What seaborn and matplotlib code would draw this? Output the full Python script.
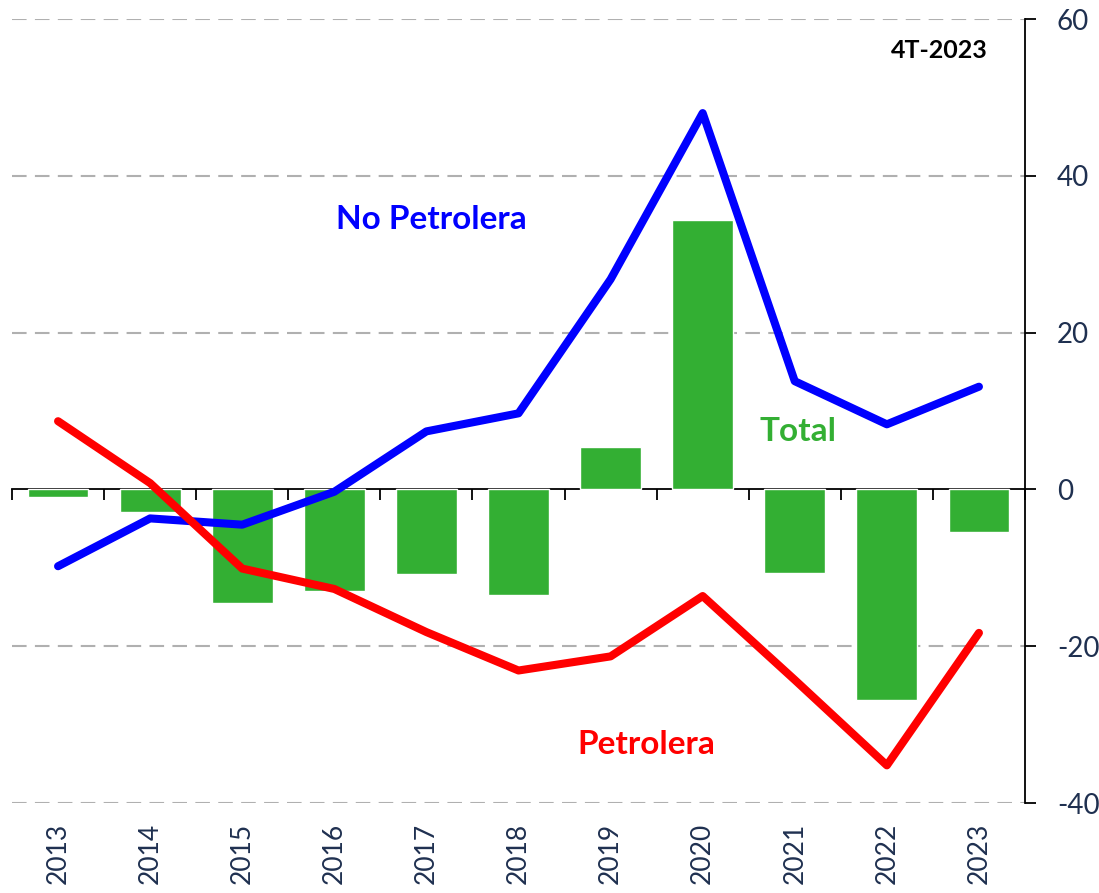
import numpy as np
import pandas as pd
import matplotlib
matplotlib.use("Agg")
import matplotlib.pyplot as plt
import seaborn as sns

years = ["2013", "2014", "2015", "2016", "2017", "2018", "2019", "2020", "2021", "2022", "2023"]
total = [-1.0, -2.9, -14.5, -13.0, -10.8, -13.5, 5.4, 34.3, -10.6, -26.8, -5.4]
no_petrolera = [-9.8, -3.7, -4.5, -0.3, 7.4, 9.7, 26.8, 48.0, 13.8, 8.3, 13.1]
petrolera = [8.7, 0.8, -10.1, -12.7, -18.2, -23.1, -21.3, -13.6, -24.3, -35.2, -18.3]

sns.set_style("white")
plt.rcParams["font.family"] = ["Lato", "DejaVu Sans"]
plt.rcParams["axes.unicode_minus"] = False

navy = "#1f3050"
df = pd.DataFrame({"year": years, "idx": np.arange(len(years)), "total": total,
                   "no_petrolera": no_petrolera, "petrolera": petrolera})

fig = plt.figure(figsize=(10.99, 8.93), dpi=100)
ax = fig.add_axes([12 / 1099, 90 / 893, 1013 / 1099, 784 / 893])

# dashed grid
for v in [60, 40, 20, -20, -40]:
    ax.axhline(v, color="#b0b0b0", lw=1.5, ls=(0, (7, 4)), zorder=0)

sns.barplot(data=df, x="idx", y="total", color="#33af33", width=0.66,
            saturation=1, ax=ax, zorder=2, native_scale=True)
sns.lineplot(data=df, x="idx", y="no_petrolera", color="#0000ff", lw=5.8,
             ax=ax, zorder=3, solid_capstyle="round")
sns.lineplot(data=df, x="idx", y="petrolera", color="#ff0000", lw=5.8,
             ax=ax, zorder=3, solid_capstyle="round")

ax.set_xlim(-0.5, len(years) - 0.5)
ax.set_ylim(-40, 60)

# y axis on right
for s in ["top", "left", "bottom"]:
    ax.spines[s].set_visible(False)
ax.spines["right"].set_color("black")
ax.spines["right"].set_linewidth(1.3)
ax.yaxis.tick_right()
ax.set_yticks([-40, -20, 0, 20, 40, 60])
ax.tick_params(axis="y", which="major", direction="out", length=8, width=1.3,
               color="black", labelsize=20, labelcolor=navy, pad=15, right=True, left=False)

# x labels at bottom
ax.set_xticks(np.arange(len(years)))
ax.set_xticklabels(years, rotation=90)
ax.tick_params(axis="x", length=0, labelsize=19, labelcolor=navy, pad=14)
ax.set_xlabel("")
ax.set_ylabel("")

# zero axis with separators between categories
sec = ax.secondary_xaxis(0.4)
sec.spines["bottom"].set_color("black")
sec.spines["bottom"].set_linewidth(1.3)
sec.set_xticks([])
sec.set_xticks(np.arange(len(years) + 1) - 0.5, minor=True)
sec.tick_params(which="minor", direction="out", length=8, width=1.3, color="black")
sec.tick_params(which="both", labelbottom=False)

ax.text(4.05, 34.4, "No Petrolera", color="#0000ff", fontsize=24, fontweight="bold",
        ha="center", va="center")
ax.text(8.03, 7.4, "Total", color="#33af33", fontsize=24, fontweight="bold",
        ha="center", va="center")
ax.text(6.39, -32.5, "Petrolera", color="#ff0000", fontsize=24, fontweight="bold",
        ha="center", va="center")
ax.text(10.1, 56.0, "4T-2023", color="black", fontsize=18, fontweight="bold",
        ha="right", va="center")

fig.savefig("out.png", dpi=100)
